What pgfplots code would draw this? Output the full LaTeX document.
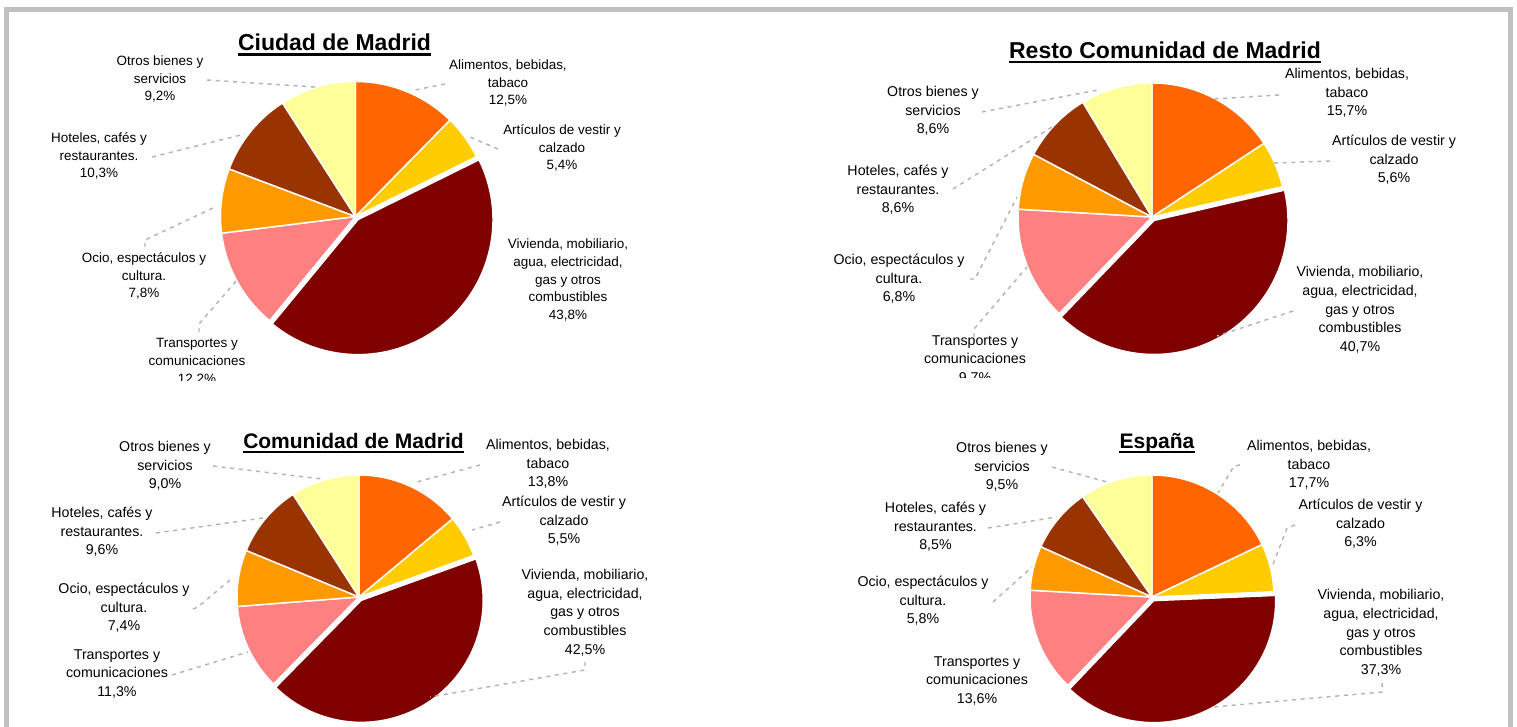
\documentclass[border=0pt]{standalone}
\usepackage{pgfplots}
\pgfplotsset{compat=1.18}
\usepackage{pgfplotstable}
\usepackage{fontspec}
\setmainfont{Liberation Sans}

\definecolor{c0}{HTML}{FF6600}
\definecolor{c1}{HTML}{FFCC00}
\definecolor{c2}{HTML}{800000}
\definecolor{c3}{HTML}{FF8080}
\definecolor{c4}{HTML}{FF9900}
\definecolor{c5}{HTML}{993300}
\definecolor{c6}{HTML}{FFFF99}
\definecolor{framegray}{HTML}{C0C0C0}
\definecolor{leadgray}{HTML}{B4B4B4}

% order: Alimentos, Articulos, Vivienda, Transportes, Ocio, Hoteles, Otros
\pgfplotstableread{
v
12.5
5.4
43.8
12.2
7.8
10.3
9.2
}\ciudad
\pgfplotstableread{
v
15.7
5.6
40.7
13.7
6.8
8.6
8.6
}\resto
\pgfplotstableread{
v
13.8
5.5
42.5
11.3
7.4
9.6
9.0
}\comunidad
\pgfplotstableread{
v
17.7
6.3
37.3
13.6
5.8
8.5
9.5
}\espana

\def\px{0.75pt}
\newcommand\drawpie[4]{%
  \pgfmathsetmacro\pietot{0}%
  \pgfplotsforeachungrouped \k in {0,...,6}{%
    \pgfplotstablegetelem{\k}{v}\of{#1}%
    \pgfmathsetmacro\pietot{\pietot+\pgfplotsretval}%
  }%
  \pgfmathsetmacro\piecum{0}%
  \pgfplotsforeachungrouped \k in {0,...,6}{%
    \pgfplotstablegetelem{\k}{v}\of{#1}%
    \pgfmathsetmacro\pa{90-(\piecum/\pietot)*360}%
    \pgfmathsetmacro\piecum{\piecum+\pgfplotsretval}%
    \pgfmathsetmacro\pb{90-(\piecum/\pietot)*360}%
    \pgfmathsetmacro\pmid{(\pa+\pb)/2}%
    \ifnum\k=2 \def\pex{4}\else\def\pex{0}\fi
    \edef\piecmd{\noexpand\filldraw[fill=c\k, draw=white, line width=1.1pt, line join=round]
      ([shift={(\pmid:\pex*\px)}]axis cs:#2,#3) -- ++(\pa:#4*\px) arc[start angle=\pa, end angle=\pb, radius=#4*\px] -- cycle;}%
    \piecmd
  }%
}
\newcommand\lfa{\fontsize{10.65}{14}\selectfont}
\newcommand\lfc{\fontsize{10.1}{13.35}\selectfont}
\tikzset{lab/.style={align=center, inner sep=0pt},
  lead/.style={leadgray, line width=1.1pt, dash pattern=on 3pt off 3.5pt},
  ttl/.style={anchor=base, inner sep=0pt}}

\begin{document}
\begin{tikzpicture}
\begin{axis}[at={(0,0)}, anchor=south west, width=1137.75pt, height=545.25pt,
  scale only axis, xmin=0, xmax=1517, ymin=0, ymax=727, y dir=reverse,
  hide axis, clip=false]

% frame
\draw[framegray, line width=3.75pt] (axis cs:6.7,740) -- (axis cs:6.7,9.8) -- (axis cs:1510.7,9.8) -- (axis cs:1510.7,740);

% pies
\drawpie{\ciudad}{355.5}{216.5}{135}
\drawpie{\resto}{1152}{217}{134}
\drawpie{\comunidad}{359}{597}{122}
\drawpie{\espana}{1152}{597}{122}

% titles
\node[ttl, font=\fontsize{17.25}{20}\selectfont\bfseries] (t1) at (axis cs:334.5,50.5) {Ciudad de Madrid};
\draw[line width=1.6pt] ([yshift=-3pt]t1.base west) -- ([yshift=-3pt]t1.base east);
\node[ttl, font=\fontsize{17.25}{20}\selectfont\bfseries] (t2) at (axis cs:1165,58.3) {Resto Comunidad de Madrid};
\draw[line width=1.6pt] ([yshift=-2.5pt]t2.base west) -- ([yshift=-2.5pt]t2.base east);
\node[ttl, font=\fontsize{15.75}{18}\selectfont\bfseries] (t3) at (axis cs:353.5,448.3) {Comunidad de Madrid};
\draw[line width=1.5pt] ([yshift=-2.7pt]t3.base west) -- ([yshift=-2.7pt]t3.base east);
\node[ttl, font=\fontsize{15.75}{18}\selectfont\bfseries] (t4) at (axis cs:1157,448.3) {España};
\draw[line width=1.5pt] ([yshift=-2.7pt]t4.base west) -- ([yshift=-2.7pt]t4.base east);

% leader lines: Ciudad
\draw[lead] (axis cs:207,80) -- (axis cs:315,87);
\draw[lead] (axis cs:152,157) -- (axis cs:245,134);
\draw[lead] (axis cs:145,247) -- (axis cs:145,240) -- (axis cs:213,208);
\draw[lead] (axis cs:199,332) -- (axis cs:199,324) -- (axis cs:237,280);
\draw[lead] (axis cs:445,84) -- (axis cs:415,90);
\draw[lead] (axis cs:498,149) -- (axis cs:470,137);
% Resto
\draw[lead] (axis cs:982,112) -- (axis cs:1098,90);
\draw[lead] (axis cs:953,189) -- (axis cs:1052,127);
\draw[lead] (axis cs:970,279) -- (axis cs:975,279) -- (axis cs:1017,197);
\draw[lead] (axis cs:974,337) -- (axis cs:974,329) -- (axis cs:1027,267);
\draw[lead] (axis cs:1279,95) -- (axis cs:1213,99);
\draw[lead] (axis cs:1330,161) -- (axis cs:1273,163);
\draw[lead] (axis cs:1293,311) -- (axis cs:1217,336);
% Comunidad
\draw[lead] (axis cs:213,466) -- (axis cs:322,479);
\draw[lead] (axis cs:156,533) -- (axis cs:263,518);
\draw[lead] (axis cs:193,609) -- (axis cs:198,607) -- (axis cs:230,580);
\draw[lead] (axis cs:172,675) -- (axis cs:248,652);
\draw[lead] (axis cs:480,465) -- (axis cs:413,483);
\draw[lead] (axis cs:500,522) -- (axis cs:472,530);
\draw[lead] (axis cs:585,662) -- (axis cs:585,670) -- (axis cs:430,697);
% Espana
\draw[lead] (axis cs:1052,467) -- (axis cs:1107,482);
\draw[lead] (axis cs:988,528) -- (axis cs:1057,517);
\draw[lead] (axis cs:993,602) -- (axis cs:1032,567);
\draw[lead] (axis cs:1240,465) -- (axis cs:1234,466) -- (axis cs:1218,493);
\draw[lead] (axis cs:1295,525) -- (axis cs:1287,528) -- (axis cs:1272,567);
\draw[lead] (axis cs:1382,683) -- (axis cs:1382,692) -- (axis cs:1213,707);

% labels: Ciudad
\node[lab, font=\lfc] at (axis cs:508,83) {Alimentos, bebidas,\\tabaco\\12,5\%};
\node[lab, font=\lfc] at (axis cs:562,148) {Artículos de vestir y\\calzado\\5,4\%};
\node[lab, font=\lfc] at (axis cs:568,280) {Vivienda, mobiliario,\\agua, electricidad,\\gas y otros\\combustibles\\43,8\%};
\node[lab, font=\lfc] at (axis cs:144,276) {Ocio, espectáculos y\\cultura.\\7,8\%};
\node[lab, font=\lfc] at (axis cs:99,156) {Hoteles, cafés y\\restaurantes.\\10,3\%};
\node[lab, font=\lfc] at (axis cs:160,79) {Otros bienes y\\servicios\\9,2\%};
% Resto
\node[lab, font=\lfa] at (axis cs:1347,93) {Alimentos, bebidas,\\tabaco\\15,7\%};
\node[lab, font=\lfa] at (axis cs:1394,160) {Artículos de vestir y\\calzado\\5,6\%};
\node[lab, font=\lfa] at (axis cs:1360,310) {Vivienda, mobiliario,\\agua, electricidad,\\gas y otros\\combustibles\\40,7\%};
\node[lab, font=\lfa] at (axis cs:899,279) {Ocio, espectáculos y\\cultura.\\6,8\%};
\node[lab, font=\lfa] at (axis cs:898,190) {Hoteles, cafés y\\restaurantes.\\8,6\%};
\node[lab, font=\lfa] at (axis cs:933,111) {Otros bienes y\\servicios\\8,6\%};
% clipped bottom labels of the upper charts
\begin{scope}
\clip (axis cs:0,12) rectangle (axis cs:700,380.5);
\node[lab, font=\lfc] at (axis cs:197,362) {Transportes y\\comunicaciones\\12,2\%};
\end{scope}
\begin{scope}
\clip (axis cs:700,12) rectangle (axis cs:1517,377.5);
\node[lab, font=\lfa] at (axis cs:975,360) {Transportes y\\comunicaciones\\9,7\%};
\end{scope}
% Comunidad
\node[lab, font=\lfa] at (axis cs:548,464) {Alimentos, bebidas,\\tabaco\\13,8\%};
\node[lab, font=\lfa] at (axis cs:564,521) {Artículos de vestir y\\calzado\\5,5\%};
\node[lab, font=\lfa] at (axis cs:585,612.7) {Vivienda, mobiliario,\\agua, electricidad,\\gas y otros\\combustibles\\42,5\%};
\node[lab, font=\lfa] at (axis cs:117,674) {Transportes y\\comunicaciones\\11,3\%};
\node[lab, font=\lfa] at (axis cs:124,608) {Ocio, espectáculos y\\cultura.\\7,4\%};
\node[lab, font=\lfa] at (axis cs:102,532) {Hoteles, cafés y\\restaurantes.\\9,6\%};
\node[lab, font=\lfa] at (axis cs:165,466) {Otros bienes y\\servicios\\9,0\%};
% Espana
\node[lab, font=\lfa] at (axis cs:1309,465) {Alimentos, bebidas,\\tabaco\\17,7\%};
\node[lab, font=\lfa] at (axis cs:1360.5,524) {Artículos de vestir y\\calzado\\6,3\%};
\node[lab, font=\lfa] at (axis cs:1381,633) {Vivienda, mobiliario,\\agua, electricidad,\\gas y otros\\combustibles\\37,3\%};
\node[lab, font=\lfa] at (axis cs:977,681) {Transportes y\\comunicaciones\\13,6\%};
\node[lab, font=\lfa] at (axis cs:923,601) {Ocio, espectáculos y\\cultura.\\5,8\%};
\node[lab, font=\lfa] at (axis cs:935.5,527) {Hoteles, cafés y\\restaurantes.\\8,5\%};
\node[lab, font=\lfa] at (axis cs:1002,467) {Otros bienes y\\servicios\\9,5\%};
\end{axis}
\pgfresetboundingbox
\useasboundingbox (0,0) rectangle (1137.75pt,545.25pt);
\end{tikzpicture}
\end{document}
